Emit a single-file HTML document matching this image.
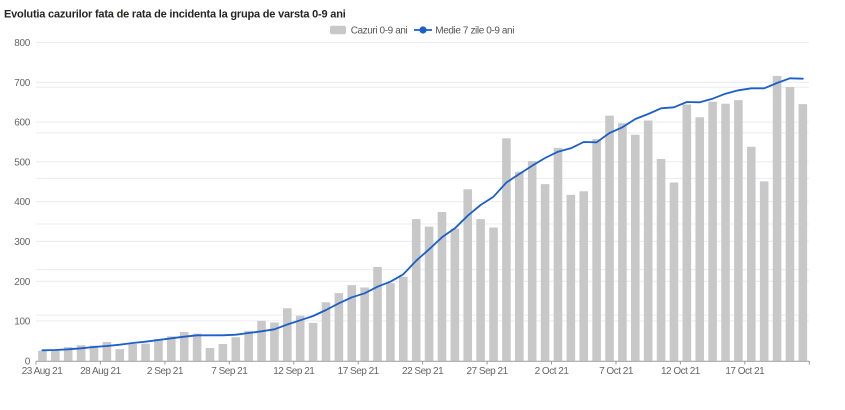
<!DOCTYPE html>
<html><head><meta charset="utf-8"><style>
html,body{margin:0;padding:0;background:#fff;width:845px;height:410px;overflow:hidden}
svg{display:block}
text{font-family:"Segoe UI","Liberation Sans",sans-serif}
</style></head><body>
<svg width="845" height="410" viewBox="0 0 845 410" xmlns="http://www.w3.org/2000/svg">
<text x="4" y="17.5" font-size="11" font-weight="bold" fill="#252423" letter-spacing="-0.2">Evolutia cazurilor fata de rata de incidenta la grupa de varsta 0-9 ani</text>
<rect x="330" y="25.7" width="16" height="8.6" rx="2" fill="#c8c8c8"/>
<text x="350.7" y="33.5" font-size="10" fill="#555" letter-spacing="-0.4">Cazuri 0-9 ani</text>
<line x1="414" y1="30" x2="432" y2="30" stroke="#1c5fc9" stroke-width="1.8"/>
<circle cx="423" cy="30" r="3.6" fill="#1c5fc9"/>
<text x="435.3" y="33.5" font-size="10" fill="#555" letter-spacing="-0.4">Medie 7 zile 0-9 ani</text>
<path stroke="#eaecf2" stroke-width="1" fill="none" d="M36 320.9H809M36 281.2H809M36 241.4H809M36 201.6H809M36 161.8H809M36 122.1H809M36 82.3H809M36 42.5H809M36 315.1H809M36 269.6H809M36 224H809M36 178.4H809M36 132.9H809M36 87.3H809"/>
<g font-size="10" fill="#666" text-anchor="end" letter-spacing="-0.3">
<text x="30" y="364.3">0</text>
<text x="30" y="324.5">100</text>
<text x="30" y="284.8">200</text>
<text x="30" y="245">300</text>
<text x="30" y="205.2">400</text>
<text x="30" y="165.4">500</text>
<text x="30" y="125.7">600</text>
<text x="30" y="85.9">700</text>
<text x="30" y="46.1">800</text>
</g>
<g transform="translate(36,360.7) scale(12.888,-0.39775)">
<path fill="#c8c8c8" d="M.1667 0v25h.6667V0m.3333 0v27h.6667V0m.3333 0v34h.6667V0m.3333 0v39h.6667V0m.3333 0v38h.6667V0m.3333 0v47h.6667V0m.3333 0v29h.6667V0m.3333 0v42h.6667V0m.3333 0v43h.6667V0m.3333 0v55h.6667V0m.3333 0v61h.6667V0m.3333 0v72h.6667V0m.3333 0v68h.6667V0m.3333 0v32h.6667V0m.3333 0v42h.6667V0m.3333 0v59h.6667V0m.3333 0v75h.6667V0m.3333 0v100h.6667V0m.3333 0v96h.6667V0m.3333 0v132h.6667V0m.3333 0v113h.6667V0m.3333 0v95h.6667V0m.3333 0v147h.6667V0m.3333 0v170h.6667V0m.3333 0v190h.6667V0m.3333 0v184h.6667V0m.3333 0v236h.6667V0m.3333 0v195h.6667V0m.3333 0v211h.6667V0m.3333 0v356h.6667V0m.3333 0v337h.6667V0m.3333 0v374h.6667V0m.3333 0v332h.6667V0m.3333 0v431h.6667V0m.3333 0v356h.6667V0m.3333 0v335h.6667V0m.3333 0v559h.6667V0m.3333 0v475h.6667V0m.3333 0v502h.6667V0m.3333 0v444h.6667V0m.3333 0v535h.6667V0m.3333 0v417h.6667V0m.3333 0v426h.6667V0m.3333 0v557h.6667V0m.3333 0v616h.6667V0m.3333 0v597h.6667V0m.3333 0v568h.6667V0m.3333 0v604h.6667V0m.3333 0v507h.6667V0m.3333 0v448h.6667V0m.3333 0v644h.6667V0m.3333 0v612h.6667V0m.3333 0v651h.6667V0m.3333 0v646h.6667V0m.3333 0v655h.6667V0m.3333 0v538h.6667V0m.3333 0v451h.6667V0m.3333 0v716h.6667V0m.3333 0v688h.6667V0m.3333 0v645h.6667V0z"/>
</g>
<path stroke="#9a9a9a" stroke-width="1" fill="none" d="M36 361.2H809.3M36 361v3.5M100.4 361v3.5M164.9 361v3.5M229.3 361v3.5M293.8 361v3.5M358.2 361v3.5M422.6 361v3.5M487.1 361v3.5M551.5 361v3.5M616 361v3.5M680.4 361v3.5M744.8 361v3.5M809.3 361v3.5"/>
<g font-size="10" fill="#666" text-anchor="middle" letter-spacing="-0.5">
<text x="42" y="374">23 Aug 21</text>
<text x="100.4" y="374">28 Aug 21</text>
<text x="164.9" y="374">2 Sep 21</text>
<text x="229.3" y="374">7 Sep 21</text>
<text x="293.8" y="374">12 Sep 21</text>
<text x="358.2" y="374">17 Sep 21</text>
<text x="422.6" y="374">22 Sep 21</text>
<text x="487.1" y="374">27 Sep 21</text>
<text x="551.5" y="374">2 Oct 21</text>
<text x="616" y="374">7 Oct 21</text>
<text x="680.4" y="374">12 Oct 21</text>
<text x="744.8" y="374">17 Oct 21</text>
</g>
<polyline fill="none" stroke="#1c5fc9" stroke-width="1.8" stroke-linejoin="round" stroke-linecap="round" points="42.4,350.3 55.3,350 68.2,349.3 81.1,348.3 94,347 106.9,346 119.8,344.7 132.7,343 145.5,341.7 158.4,340 171.3,338.3 184.2,336.7 197.1,335.3 210,335.3 222.9,335.3 235.8,334.7 248.7,333 261.5,331.3 274.4,329.3 287.3,324.5 300.2,320.3 313.1,316 326,310 338.9,303.3 351.8,297.3 364.6,293.3 377.5,286.7 390.4,281.7 403.3,274.3 416.2,260.7 429.1,249.3 442,237.3 454.9,228.3 467.7,215.7 480.6,205 493.5,196.7 506.4,182.5 519.3,174 532.2,165.7 545.1,158 558,151.7 570.8,148.3 583.7,142 596.6,142.3 609.5,133 622.4,127.3 635.3,119 648.2,114 661.1,108.3 673.9,107.3 686.8,102 699.7,102.3 712.6,98.7 725.5,93.7 738.4,90.3 751.3,88.3 764.2,88.3 777,83 789.9,78.3 802.8,78.7"/>
</svg>
</body></html>
